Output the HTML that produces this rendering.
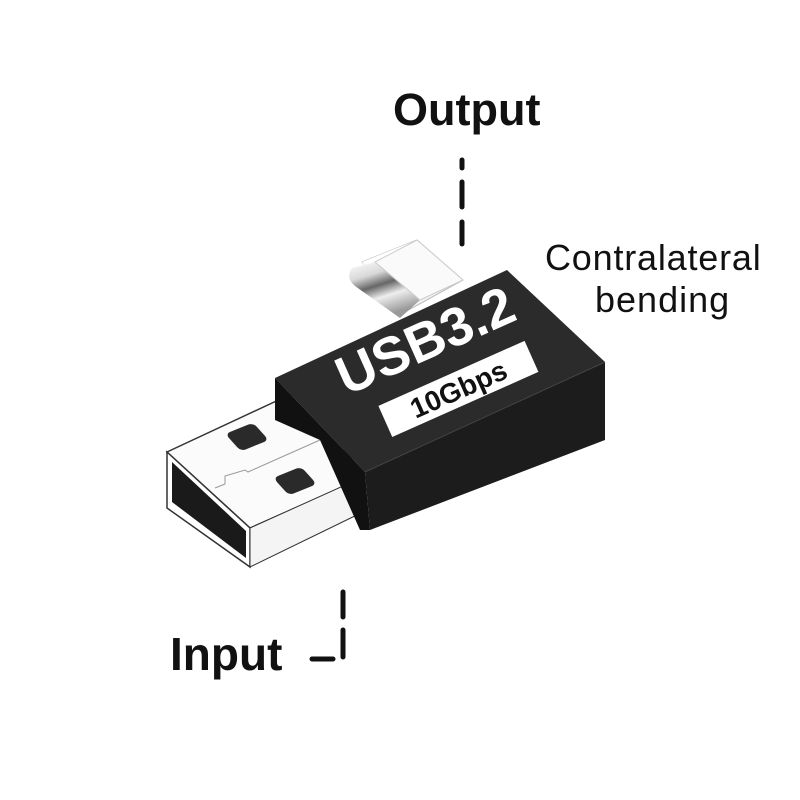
<!DOCTYPE html>
<html><head><meta charset="utf-8"><style>
html,body{margin:0;padding:0;background:#fff;}
svg{display:block}
</style></head><body>
<svg width="800" height="800" viewBox="0 0 800 800" xmlns="http://www.w3.org/2000/svg">
<defs>
<linearGradient id="tube" x1="0" y1="0" x2="0.4" y2="1">
<stop offset="0" stop-color="#fff"/><stop offset="0.3" stop-color="#d8d8d8"/><stop offset="0.5" stop-color="#666"/><stop offset="0.7" stop-color="#eee"/><stop offset="1" stop-color="#999"/>
</linearGradient>
</defs>
<rect width="800" height="800" fill="#fff"/>
<!-- Type C -->
<polygon points="362,262 417,240 463,280 405,312" fill="#f3f3f3" stroke="#bbb" stroke-width="1"/>
<path d="M362,262 L417,240 L422,246 L370,272 Z" fill="#fff"/>
<path d="M352,268 Q345,278 355,286 L400,318 L420,300 L375,262 Z" fill="url(#tube)"/>
<polygon points="375,262 417,240 463,280 420,300" fill="#fafafa" stroke="#ccc" stroke-width="1"/>
<!-- USB-A plug -->
<polygon points="167,452 300,390 365,477 250,528" fill="#fbfbfb" stroke="#333" stroke-width="1.5"/>
<polygon points="167,452 250,528 250,567 167,508" fill="#fff" stroke="#333" stroke-width="1.5"/>
<polygon points="172,462 246,531 246,558 172,502" fill="#1a1a1a"/>
<polygon points="250,528 363,477 363,512 250,567" fill="#f4f4f4" stroke="#333" stroke-width="1"/>
<polyline points="215,488 225,484 225,476 245,470 248,472 320,440" fill="none" stroke="#999" stroke-width="1"/>
<g transform="translate(247,437) rotate(-22) skewX(20)"><rect x="-15" y="-11" width="30" height="22" rx="5" fill="#2a2a2a"/></g>
<g transform="translate(295,481) rotate(-22) skewX(20)"><rect x="-15" y="-11" width="30" height="22" rx="5" fill="#2a2a2a"/></g>
<!-- body -->
<polygon points="275,378 507,270 605,362 365,472" fill="#2b2b2b"/>
<polygon points="365,472 605,362 605,440 370,530" fill="#1c1c1c"/>
<polygon points="275,378 365,472 370,530 360,530 320,440 275,420" fill="#111"/>
<line x1="365" y1="472" x2="605" y2="362" stroke="#444" stroke-width="1"/>
<!-- label -->
<g transform="translate(458,388) rotate(-24)">
<rect x="-80" y="-16" width="160" height="34" fill="#fff"/>
<text x="0" y="11" text-anchor="middle" font-family="Liberation Sans, sans-serif" font-weight="bold" font-size="28" fill="#111">10Gbps</text>
</g>
<g transform="translate(425,340) rotate(-24)">
<text x="0" y="19" text-anchor="middle" font-family="Liberation Sans, sans-serif" font-weight="bold" font-size="54" fill="#fff">USB3.2</text>
</g>
<!-- Labels -->
<text x="393" y="125" font-family="Liberation Sans, sans-serif" font-weight="bold" font-size="45" fill="#111">Output</text>
<text x="545" y="270" font-family="Liberation Sans, sans-serif" font-size="36" letter-spacing="0.8" fill="#111">Contralateral</text>
<text x="595" y="312" font-family="Liberation Sans, sans-serif" font-size="36" letter-spacing="1" fill="#111">bending</text>
<text x="170" y="670" font-family="Liberation Sans, sans-serif" font-weight="bold" font-size="46" fill="#111">Input</text>
<!-- dashes -->
<g stroke="#111" stroke-width="5" stroke-linecap="round">
<line x1="462" y1="160" x2="462" y2="168"/>
<line x1="462" y1="182" x2="462" y2="207"/>
<line x1="462" y1="222" x2="462" y2="244"/>
<line x1="343" y1="592" x2="343" y2="617"/>
<line x1="343" y1="630" x2="343" y2="657"/>
<line x1="312" y1="659" x2="333" y2="659"/>
</g>
</svg>
</body></html>
